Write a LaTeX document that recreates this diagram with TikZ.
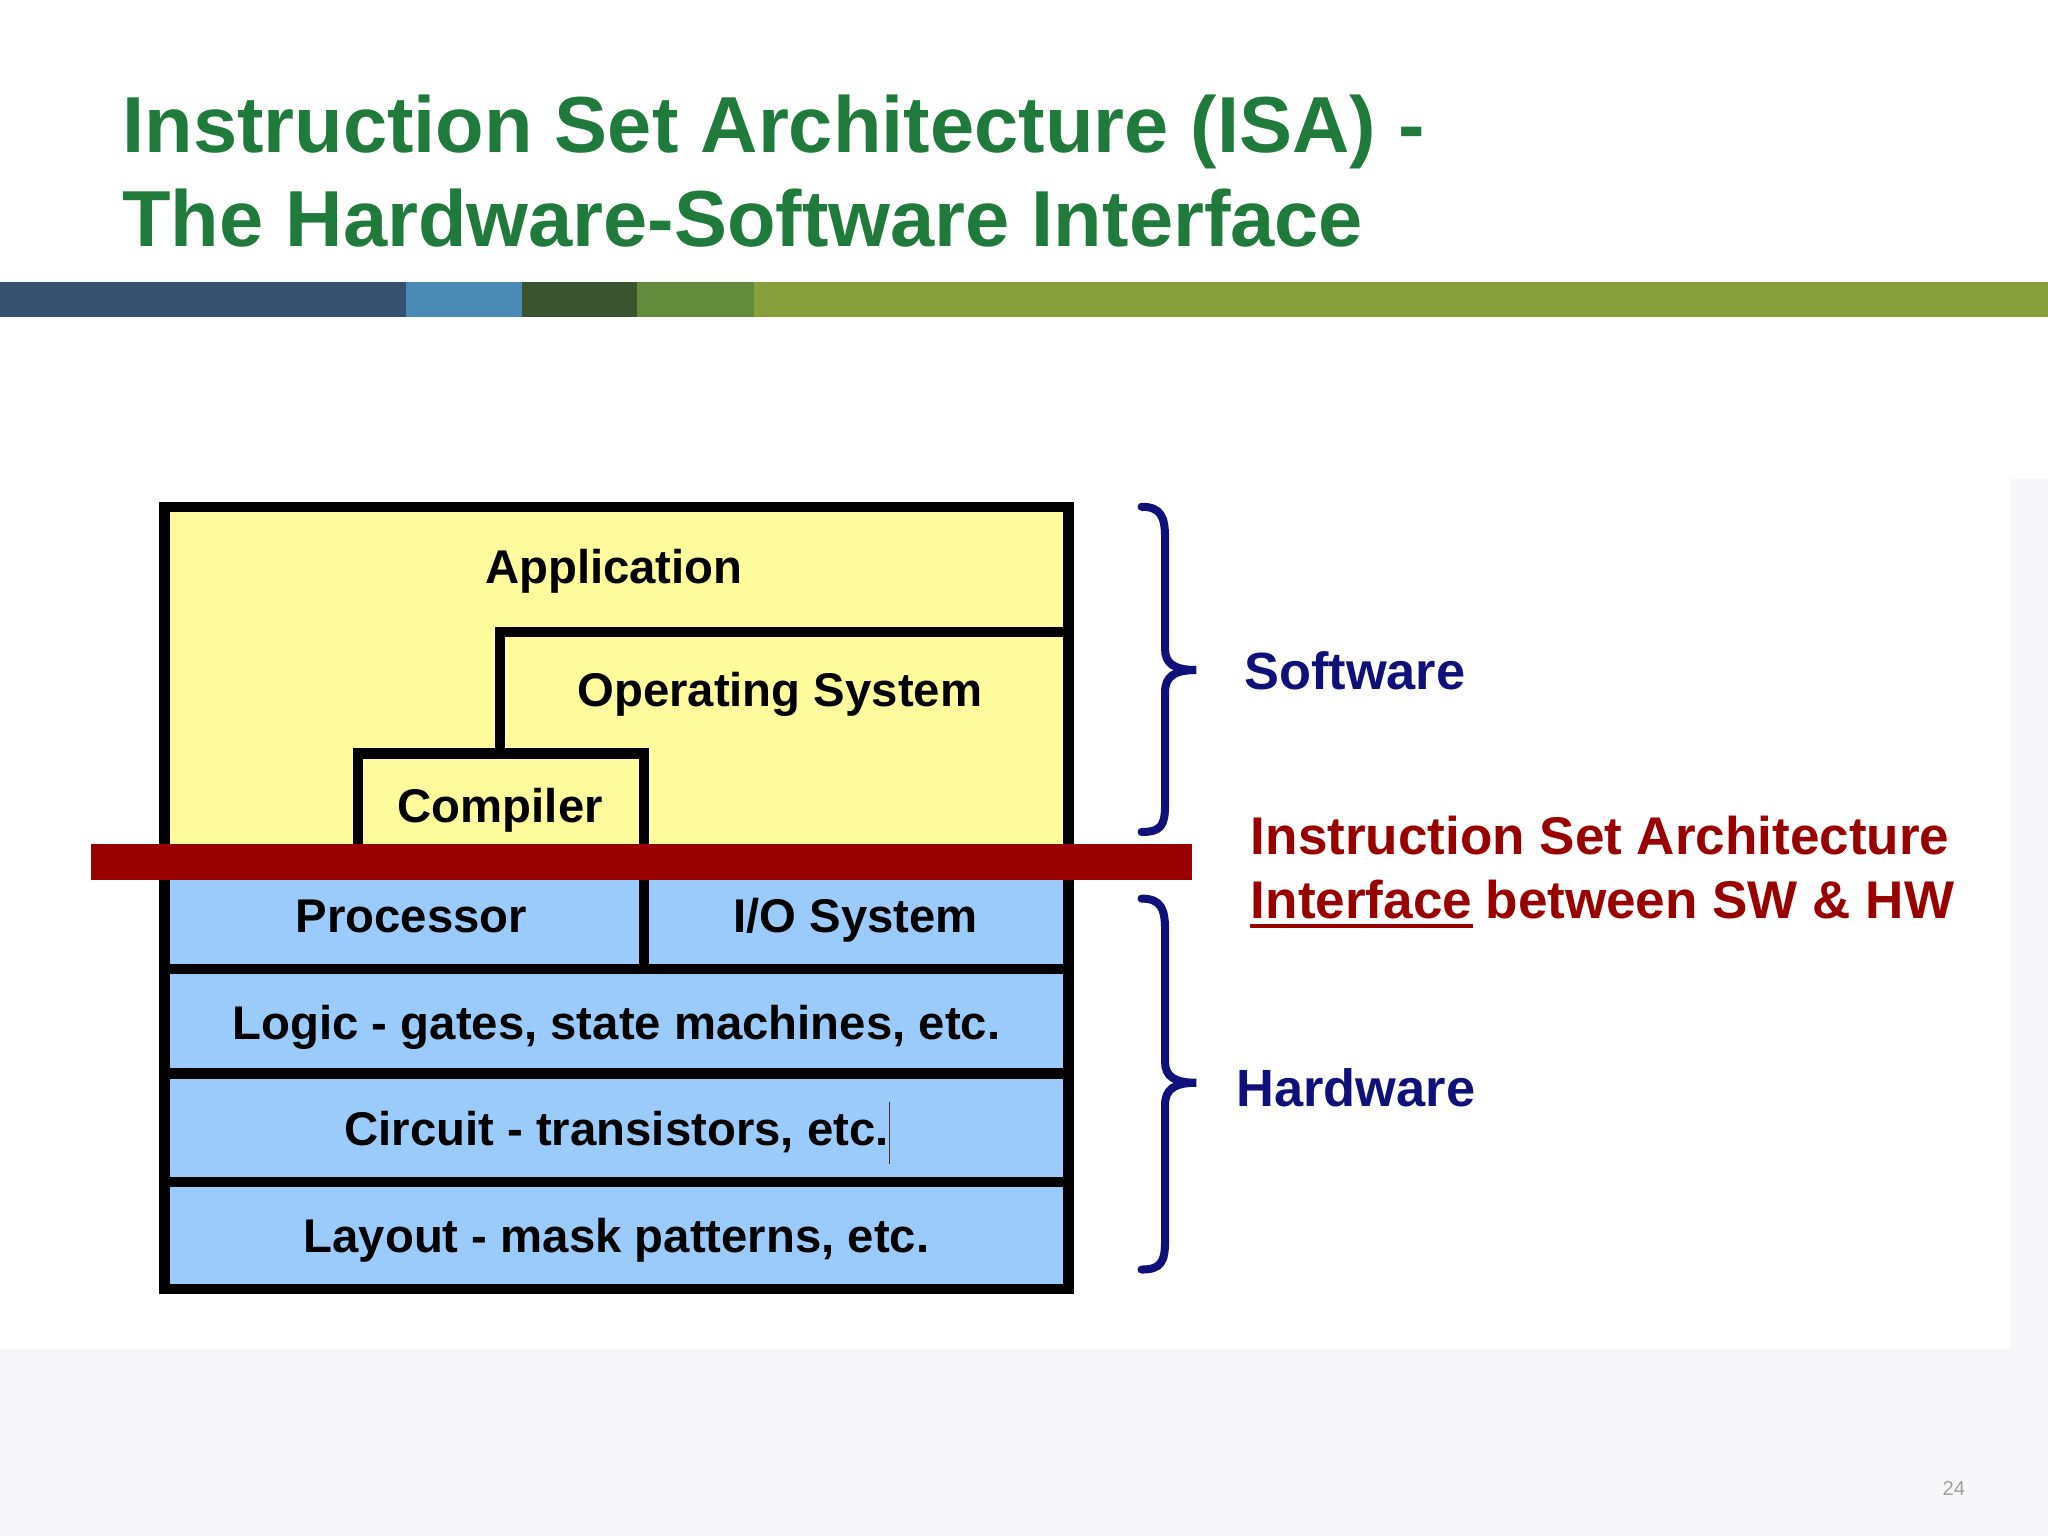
\documentclass[tikz,border=0pt]{standalone}
\usepackage{fontspec}
\setmainfont{Liberation Sans}
\usetikzlibrary{calc}
\definecolor{titlegreen}{HTML}{1F7A3B}
\definecolor{barA}{HTML}{36506F}
\definecolor{barB}{HTML}{4A8BB5}
\definecolor{barC}{HTML}{3A5430}
\definecolor{barD}{HTML}{628B3C}
\definecolor{barE}{HTML}{87A03B}
\definecolor{slidegray}{HTML}{F7F6F9}
\definecolor{swyellow}{HTML}{FDFB9B}
\definecolor{hwblue}{HTML}{9ACBFB}
\definecolor{isared}{HTML}{990000}
\definecolor{navytxt}{HTML}{10107A}
\definecolor{pagegray}{HTML}{A0A0A0}
\begin{document}
\begin{tikzpicture}[x=0.01cm,y=-0.01cm,
  ttl/.style={font=\fontsize{17.3}{20}\selectfont\bfseries, text=titlegreen, anchor=base west, inner sep=0pt},
  lbl/.style={font=\fontsize{10.3}{12}\selectfont\bfseries, anchor=base, inner sep=0pt},
  side/.style={font=\fontsize{11.4}{13}\selectfont\bfseries, text=navytxt, anchor=base west, inner sep=0pt},
  isa/.style={font=\fontsize{11.55}{13}\selectfont\bfseries, text=isared, anchor=base west, inner sep=0pt},
  wall/.style={line width=2.28pt, draw=black, line cap=rect, line join=miter},
  brace/.style={draw=navytxt, line width=1.75pt, line cap=round}]
\useasboundingbox (0,0) rectangle (1568,1176);
% background
\fill[white] (0,0) rectangle (1568,1176);
\fill[slidegray] (0,367) rectangle (1568,1176);
\fill[white] (0,367) rectangle (1540,1033);
% colour bar
\fill[barA] (0,216) rectangle (311,243);
\fill[barB] (311,216) rectangle (400,243);
\fill[barC] (400,216) rectangle (488,243);
\fill[barD] (488,216) rectangle (577,243);
\fill[barE] (577,216) rectangle (1568,243);
% title
\node[ttl] (t1) at (93,117) {Instruction Set Architecture (ISA) -};
\node[ttl] (t2) at (93,189) {The Hardware-Software Interface};
% layer fills
\fill[swyellow] (126,388) rectangle (818,660);
\fill[hwblue] (126,660) rectangle (818,987);
% walls
\draw[wall] (126,388) rectangle (818,987);
\draw[wall] (383,577) -- (383,484) -- (818,484);
\draw[wall] (274,650) -- (274,577) -- (493,577) -- (493,742);
\draw[wall] (126,742) -- (818,742);
\draw[wall] (126,822) -- (818,822);
\draw[wall] (126,905) -- (818,905);
% ISA bar
\fill[isared] (70,646) rectangle (913,674);
% labels
\node[lbl] (app) at (470,447) {Application};
\node[lbl] (os) at (597,541) {Operating System};
\node[lbl] (comp) at (383,630) {Compiler};
\node[lbl] (proc) at (315,714) {Processor};
\node[lbl] (io) at (655,714) {I/O System};
\node[lbl] (logic) at (472,796) {Logic - gates, state machines, etc.};
\node[lbl] (circ) at (472,877) {Circuit - transistors, etc.};
\node[lbl] (lay) at (472,959) {Layout - mask patterns, etc.};
\draw[draw={rgb,255:red,90;green,40;blue,25}, line width=0.35pt] (681,844) -- (681,891);
% braces
\draw[brace] (874,388) .. controls (889,388) and (892,396) .. (892,412) -- (892,497)
  .. controls (892,508) and (899,513) .. (916,513)
  .. controls (899,513) and (892,518) .. (892,530) -- (892,616)
  .. controls (892,632) and (889,637) .. (874,637);
\draw[brace] (874,688) .. controls (889,688) and (892,696) .. (892,712) -- (892,813)
  .. controls (892,824) and (899,829) .. (916,829)
  .. controls (899,829) and (892,834) .. (892,846) -- (892,950)
  .. controls (892,966) and (889,972) .. (874,972);
\node[side] (sw) at (952,528) {Software};
\node[side] (hw) at (946,847) {Hardware};
% ISA text
\node[isa] (isa1) at (957,654) {Instruction Set Architecture};
\node[isa] (iface) at (957,703) {Interface};
\node[isa, anchor=base west] (btw) at ($(iface.base east)+(9,0)$) {between SW \& HW};
\draw[isared, line width=0.8pt] ($(iface.base west)+(0,6)$) -- ($(iface.base east)+(0,6)$);
% page number
\node[font=\fontsize{4.4}{5}\selectfont, text=pagegray, anchor=base, inner sep=0pt] (pg) at (1496,1145) {24};
\end{tikzpicture}
\end{document}
